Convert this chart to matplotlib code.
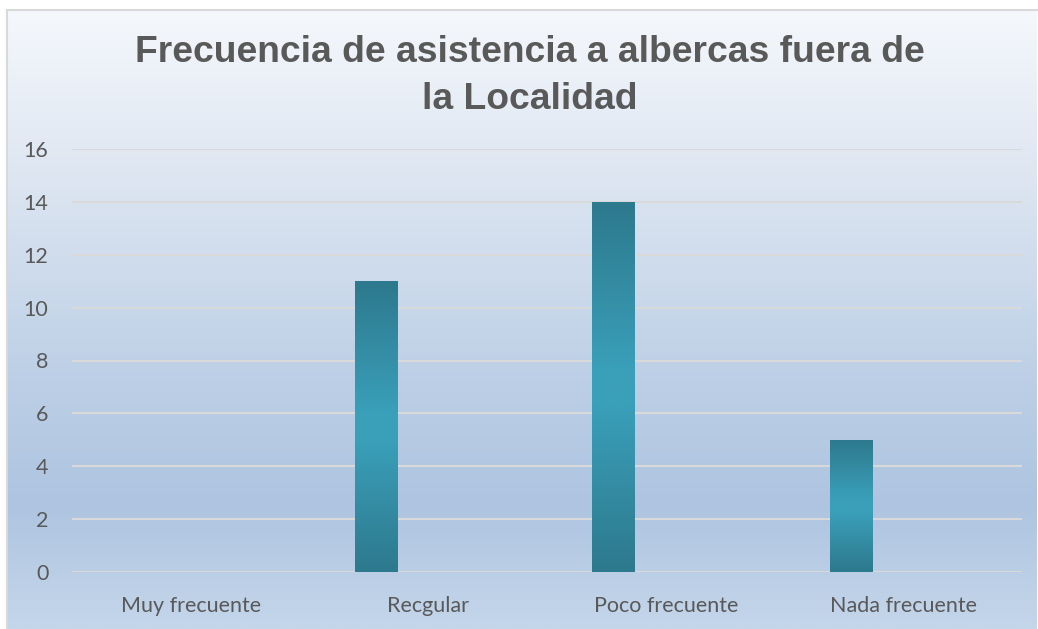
import numpy as np
import matplotlib
matplotlib.use("Agg")
import matplotlib.pyplot as plt
from matplotlib.colors import LinearSegmentedColormap

categories = ["Muy frecuente", "Recgular", "Poco frecuente", "Nada frecuente"]
values = [0, 11, 14, 5]
yticks = [0, 2, 4, 6, 8, 10, 12, 14, 16]
title = "Frecuencia de asistencia a albercas fuera de\nla Localidad"

W, H = 1038, 629
fig = plt.figure(figsize=(W / 100, H / 100), dpi=100, facecolor="white")

# background panel with vertical gradient
bg = fig.add_axes([7 / W, 0, (W - 8) / W, (H - 10) / H])
bg_cmap = LinearSegmentedColormap.from_list(
    "bg", [(0.0, "#f5f8fc"), (0.25, "#dfe7f2"), (0.6, "#bccfe6"),
           (0.8, "#aec4e0"), (1.0, "#c4d6ea")])
grad = np.linspace(0, 1, 256).reshape(-1, 1)
bg.imshow(grad, aspect="auto", cmap=bg_cmap, extent=[0, 1, 0, 1], origin="upper")
bg.set_xlim(0, 1)
bg.set_ylim(0, 1)
bg.set_xticks([])
bg.set_yticks([])
for s in ["right", "bottom"]:
    bg.spines[s].set_visible(False)
for s in ["top", "left"]:
    bg.spines[s].set_color("#d9d9d9")
    bg.spines[s].set_linewidth(1.5)
bg.set_zorder(0)

ax = fig.add_axes([72 / W, 57 / H, 950 / W, 423 / H])
ax.set_zorder(1)
ax.patch.set_alpha(0)
x = np.arange(len(categories))
bar_w = 0.177
bars = ax.bar(x - 0.22, values, width=bar_w, color="none", edgecolor="none", zorder=3)
bar_cmap = LinearSegmentedColormap.from_list(
    "bar", [(0.0, "#2d798d"), (0.45, "#3a9fb9"), (0.55, "#3a9fb9"), (1.0, "#2d798d")])
for rect in bars:
    h = rect.get_height()
    if h <= 0:
        continue
    x0 = rect.get_x()
    im = ax.imshow(grad, aspect="auto", cmap=bar_cmap,
                   extent=[x0, x0 + rect.get_width(), 0, h], zorder=3)
    im.set_clip_path(rect)

ax.set_xlim(-0.5, 3.5)
ax.set_ylim(0, 16)
ax.set_yticks(yticks)
ax.set_xticks(x)
ax.set_xticklabels(categories)
ax.yaxis.grid(True, color="#d9d9d9", linewidth=1.5, zorder=1)
ax.set_axisbelow(True)
for s in ax.spines.values():
    s.set_visible(False)
ax.tick_params(axis="both", length=0, labelsize=15.5, labelcolor="#595959")
ax.tick_params(axis="y", pad=17)
ax.tick_params(axis="x", pad=17.5)
for lab in ax.get_xticklabels() + ax.get_yticklabels():
    lab.set_family(["Lato", "DejaVu Sans"])

fig.text(530 / W, 1 - 76 / H, title, ha="center", va="center",
         fontsize=26.8, fontweight="bold", color="#595959",
         family=["Liberation Sans", "DejaVu Sans"], linespacing=1.42)

fig.savefig("out.png", dpi=100, facecolor="white")
